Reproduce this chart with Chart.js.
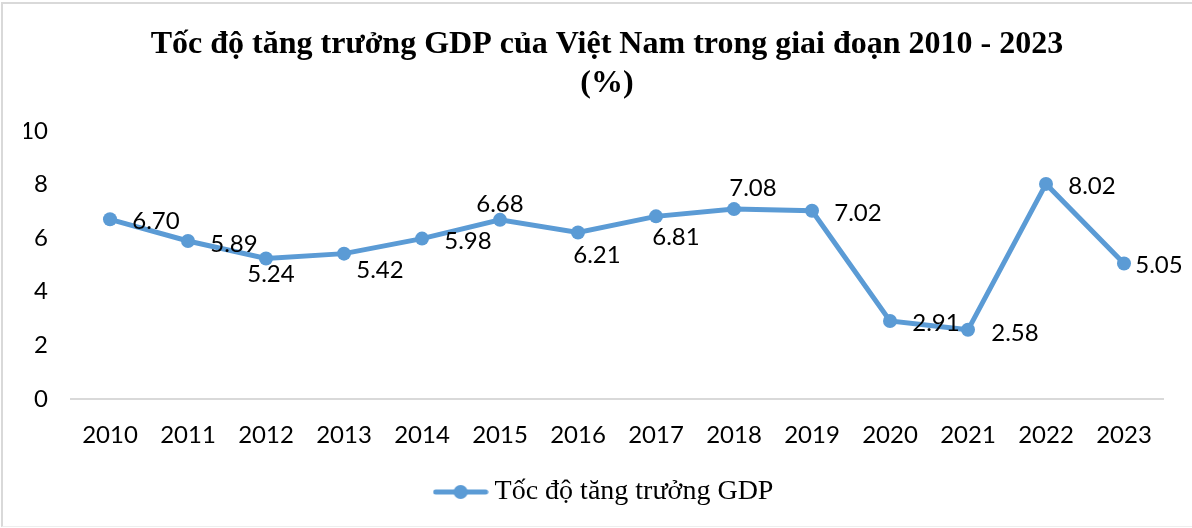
<!DOCTYPE html>
<html>
<head>
<meta charset="utf-8">
<script src="https://cdn.jsdelivr.net/npm/chart.js@4.4.1/dist/chart.umd.min.js"></script>
<style>
  html, body { margin: 0; padding: 0; background: #fff; }
  #wrap { position: relative; width: 1192px; height: 528px; }
  #frame { position: absolute; left: 1px; top: 2px; right: 0; bottom: 1px;
           border-left: 2px solid #d9d9d9; border-top: 2px solid #d9d9d9; border-bottom: 1px solid #eeeeee;
           pointer-events: none; }
  canvas { position: absolute; left: 0; top: 0; }
</style>
</head>
<body>
<div id="wrap">
  <canvas id="gdp-chart" width="1192" height="528"></canvas>
  <div id="frame"></div>
</div>
<script>
// Dữ liệu
const YEARS = ['2010','2011','2012','2013','2014','2015','2016','2017','2018','2019','2020','2021','2022','2023'];
const GDP_GROWTH = [6.70, 5.89, 5.24, 5.42, 5.98, 6.68, 6.21, 6.81, 7.08, 7.02, 2.91, 2.58, 8.02, 5.05];
const TITLE_LINES = ['Tốc độ tăng trưởng GDP của Việt Nam trong giai đoạn 2010 - 2023', '(%)'];
const SERIES_NAME = 'Tốc độ tăng trưởng GDP';

// vị trí nhãn số liệu (pixel, so với điểm)
const LABEL_OFFSETS = [
  [46, 2], [46, 3], [5, 16], [36, 17], [46, 3], [0, -16], [19, 23],
  [20, 21], [19, -21], [46, 3], [46, 2], [47, 3], [46, 2], [35, 2]
];

const BLUE = '#5B9BD5';
const SANS = 'Lato, "Open Sans", sans-serif';
const SERIF = '"Liberation Serif", "Times New Roman", serif';

// icon legend: đường + chấm tròn
function legendIcon() {
  const c = document.createElement('canvas');
  c.width = 56; c.height = 16;
  const g = c.getContext('2d');
  g.strokeStyle = BLUE; g.lineWidth = 5; g.lineCap = 'round';
  g.beginPath(); g.moveTo(3, 8); g.lineTo(53, 8); g.stroke();
  g.fillStyle = BLUE;
  g.beginPath(); g.arc(28, 8, 7, 0, Math.PI * 2); g.fill();
  return c;
}

const valueLabels = {
  id: 'valueLabels',
  afterDatasetsDraw(chart) {
    const ctx = chart.ctx;
    const meta = chart.getDatasetMeta(0);
    ctx.save();
    ctx.font = '24px ' + SANS;
    ctx.fillStyle = '#000';
    ctx.textAlign = 'center';
    ctx.textBaseline = 'middle';
    meta.data.forEach((pt, i) => {
      const off = LABEL_OFFSETS[i] || [0, -16];
      ctx.fillText(GDP_GROWTH[i].toFixed(2), pt.x + off[0], pt.y + off[1]);
    });
    ctx.restore();
  }
};

const icon = legendIcon();

new Chart(document.getElementById('gdp-chart'), {
  type: 'line',
  data: {
    labels: YEARS,
    datasets: [{
      label: SERIES_NAME,
      data: GDP_GROWTH,
      borderColor: BLUE,
      backgroundColor: BLUE,
      borderWidth: 5,
      tension: 0,
      pointRadius: 7,
      pointHoverRadius: 7,
      pointBorderWidth: 0,
      pointBackgroundColor: BLUE
    }]
  },
  options: {
    responsive: false,
    animation: false,
    layout: { padding: { left: 24, right: 2, top: 0, bottom: 12 } },
    plugins: {
      title: {
        display: true,
        text: TITLE_LINES,
        color: '#000',
        font: { family: SERIF, size: 32, weight: 'bold', lineHeight: 1.2 },
        padding: { top: 26, bottom: 28 }
      },
      legend: {
        position: 'bottom',
        labels: {
          color: '#000',
          font: { family: SERIF, size: 28 },
          usePointStyle: true,
          pointStyleWidth: 40,
          padding: 9,
          generateLabels: chart => [{
            text: SERIES_NAME,
            pointStyle: icon,
            fillStyle: BLUE,
            strokeStyle: BLUE,
            lineWidth: 0,
            hidden: false,
            datasetIndex: 0
          }]
        }
      },
      tooltip: { enabled: false }
    },
    scales: {
      x: {
        offset: true,
        grid: { display: false, drawTicks: false, offset: true },
        border: { display: true, color: '#d9d9d9', width: 2 },
        ticks: { color: '#000', font: { family: SANS, size: 24 }, padding: 22, maxRotation: 0 },
        afterFit: s => { s.height = 70; }
      },
      y: {
        min: 0, max: 10,
        grid: { display: false, drawTicks: false },
        border: { display: false },
        ticks: { stepSize: 2, color: '#000', font: { family: SANS, size: 24 }, padding: 23 },
        afterFit: s => { s.width = 47; }
      },
      yPad: {
        position: 'right',
        grid: { display: false, drawTicks: false },
        border: { display: false },
        ticks: { display: false },
        afterFit: s => { s.width = 27; }
      }
    }
  },
  plugins: [valueLabels]
});
</script>
</body>
</html>
